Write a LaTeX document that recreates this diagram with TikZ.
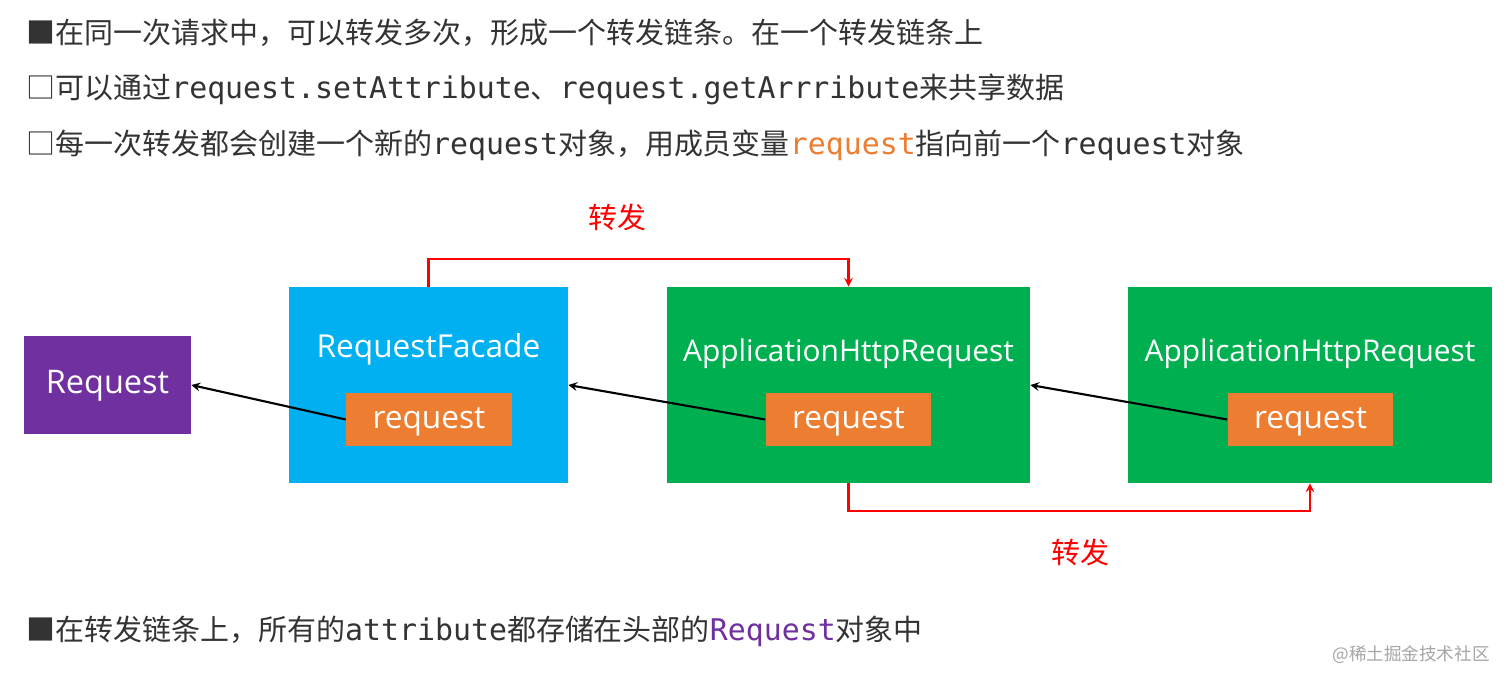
\documentclass[tikz,border=0pt]{standalone}
\usepackage{fontspec}
\setmainfont{Noto Sans CJK SC}
\newfontfamily\codefont[Scale=1.03]{DejaVu Sans Mono}
\newfontfamily\boxfont{Open Sans}
\definecolor{textgray}{HTML}{333333}
\definecolor{reqpurple}{HTML}{7030A0}
\definecolor{facadeblue}{HTML}{00B0F0}
\definecolor{appgreen}{HTML}{00B050}
\definecolor{fieldorange}{HTML}{ED7D31}
\definecolor{fwdred}{HTML}{FF0000}

\begin{document}
\begin{tikzpicture}[x=0.02cm, y=-0.02cm,
  box/.style={inner sep=0pt, minimum height=3.92cm},
  field/.style={fill=fieldorange, text=white, inner sep=0pt,
    minimum width=3.32cm, minimum height=1.06cm, text height=12pt, text depth=1.6pt,
    font=\boxfont\fontsize{18}{20}\selectfont},
  title/.style={text=white, inner sep=0pt, font=\boxfont\fontsize{18}{20}\selectfont},
  line/.style={anchor=west, inner sep=0pt, text=textgray, font=\fontsize{16.5}{20}\selectfont},
  link/.style={draw=black, line width=1.2pt, -stealth},
  fwd/.style={draw=fwdred, line width=1.2pt, -stealth},
  fwdlabel/.style={text=fwdred, inner sep=0pt, font=\fontsize{16.5}{20}\selectfont}]
  \useasboundingbox[fill=white] (0,0) rectangle (1512,686);

  % text lines
  \node[line] (l1) at (26,33) {■在同一次请求中，可以转发多次，形成一个转发链条。在一个转发链条上};
  \node[line] (l2) at (26,89) {□可以通过{\codefont request.setAttribute}、{\codefont request.getArrribute}来共享数据};
  \node[line] (l3) at (26,145) {□每一次转发都会创建一个新的{\codefont request}对象，用成员变量{\color{fieldorange}\codefont request}指向前一个{\codefont request}对象};
  \node[line] (l4) at (26,631) {■在转发链条上，所有的{\codefont attribute}都存储在头部的{\color{reqpurple}\codefont Request}对象中};

  % objects
  \node[box, fill=reqpurple, minimum width=3.34cm, minimum height=1.96cm,
    text height=13pt, text depth=3pt,
    text=white, font=\boxfont\fontsize{18.5}{20}\selectfont] (req) at (107.5,385) {Request};
  \node[box, fill=facadeblue, minimum width=5.58cm] (facade) at (428.5,385) {};
  \node[box, fill=appgreen, minimum width=7.26cm] (app1) at (848.5,385) {};
  \node[box, fill=appgreen, minimum width=7.28cm] (app2) at (1310,385) {};

  \node[title] (facadeT) at (428.5,349) {RequestFacade};
  \node[title, font=\boxfont\fontsize{17}{20}\selectfont] (app1T) at (848.5,354) {ApplicationHttpRequest};
  \node[title, font=\boxfont\fontsize{17}{20}\selectfont] (app2T) at (1310,354) {ApplicationHttpRequest};

  \node[field] (facadeR) at (429,419.5) {request};
  \node[field] (app1R) at (848.5,419.5) {request};
  \node[field] (app2R) at (1310.5,419.5) {request};

  % member pointers
  \draw[link] (facadeR.west) -- (req.east);
  \draw[link] (app1R.west) -- (facade.east);
  \draw[link] (app2R.west) -- (app1.east);

  % forwards
  \draw[fwd] (facade.north) -- ++(0,-28) -| (app1.north);
  \draw[fwd] (app1.south) -- ++(0,28) -| (app2.south);
  \node[fwdlabel] (fwdA) at (617,217) {转发};
  \node[fwdlabel] (fwdB) at (1080,552) {转发};

  \node[text=gray!70, inner sep=0pt, font=\fontsize{10}{12}\selectfont] (mark) at (1411,655) {@稀土掘金技术社区};
\end{tikzpicture}
\end{document}
